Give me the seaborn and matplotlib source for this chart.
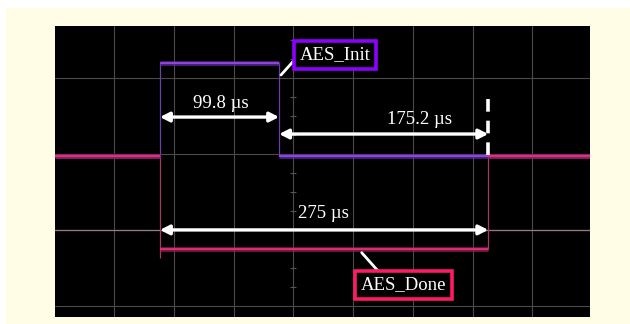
import numpy as np
import pandas as pd
import seaborn as sns
import matplotlib.pyplot as plt
from matplotlib.patches import Rectangle

#%% datos (tiempo en us, nivel en divisiones)
t_init = [-50.0, 38.2, 138.0, 400.0]
v_init = [1.98, 3.20, 1.98, 1.98]
t_done = [-50.0, 38.2, 313.2, 400.0]
v_done = [1.98, 0.75, 1.98, 1.98]
done_undershoot = 0.63

medidas = ["99.8 µs", "175.2 µs", "275 µs"]
etiquetas = ["AES_Init", "AES_Done"]

init = pd.DataFrame({"t": t_init, "v": v_init})
done = pd.DataFrame({"t": t_done, "v": v_done})

#%% figura
sns.set_style("dark")
plt.rcParams["font.family"] = ["Liberation Serif", "DejaVu Serif"]

fig = plt.figure(figsize=(6.3, 3.24), dpi=100, facecolor="white")
fig.patches.append(Rectangle((6 / 630, 0), 624 / 630, 316 / 324, transform=fig.transFigure,
                             facecolor="#fffde6", edgecolor="none", zorder=-10))
ax = fig.add_axes([0.0873, 0.0216, 0.8492, 0.8981])
ax.set_facecolor("black")
ax.set_xlim(-49.7, 398.4)
ax.set_ylim(-0.149, 3.69)

# reticula del osciloscopio
ax.set_xticks(np.arange(0, 351, 50))
ax.set_yticks([0, 1, 2, 3])
ax.grid(True, color="#4a4a4a", lw=0.8)
ax.tick_params(length=0, labelbottom=False, labelleft=False)
for s in ax.spines.values():
    s.set_visible(False)
ax.axhline(1, color="#9c7880", lw=0.9, zorder=1)
marcas = [y for y in np.arange(-0.25, 3.76, 0.25) if y % 1 != 0]
ax.plot(np.full(len(marcas), 150), marcas, ls="none", marker="_", ms=5, mew=0.8, color="#555555")

# trazas: flancos finos y tenues, niveles con banda de ruido
for df, tenue, banda, nucleo in [(init, "#6a3fa8", "#5e2aa8", "#a04cf0"),
                                 (done, "#a03a66", "#a01e55", "#ee3480")]:
    sns.lineplot(data=df, x="t", y="v", drawstyle="steps-post", estimator=None,
                 color=tenue, lw=0.9, ax=ax, zorder=2)
    for i in range(len(df) - 1):
        ax.hlines(df.v[i], df.t[i], df.t[i + 1], color=banda, lw=3.4, alpha=0.75, zorder=3)
        ax.hlines(df.v[i], df.t[i], df.t[i + 1], color=nucleo, lw=1.1, zorder=3)
ax.vlines(t_done[1], done_undershoot, v_done[1], color="#a03a66", lw=0.9, zorder=2)
ax.set_xlabel("")
ax.set_ylabel("")

# flechas de medida
flecha = dict(arrowstyle="<|-|>,head_length=0.55,head_width=0.28", color="white",
              lw=2.4, shrinkA=0, shrinkB=0)
ax.annotate("", xy=(t_init[1], 2.489), xytext=(t_init[2], 2.489), arrowprops=flecha, zorder=5)
ax.annotate("", xy=(t_init[2], 2.265), xytext=(t_done[2], 2.265), arrowprops=flecha, zorder=5)
ax.annotate("", xy=(t_done[1], 1.0), xytext=(t_done[2], 1.0), arrowprops=flecha, zorder=5)
ax.plot([t_done[2], t_done[2]], [1.99, 2.74], color="white", lw=2.6, ls=(0, (3.5, 2.5)), zorder=5)

ax.text(89.3, 2.674, medidas[0], ha="center", va="center", color="white", fontsize=13.5)
ax.text(256, 2.463, medidas[1], ha="center", va="center", color="white", fontsize=13.5)
ax.text(175.5, 1.211, medidas[2], ha="center", va="center", color="white", fontsize=13.5)

# etiquetas con recuadro
ax.plot([139.6, 153], [3.044, 3.28], color="white", lw=2, zorder=5)
ax.text(184.8, 3.307, etiquetas[0], ha="center", va="center", color="white", fontsize=13.5,
        bbox=dict(boxstyle="square,pad=0.3", fc="black", ec="#8c00ff", lw=2.6), zorder=6)
ax.plot([207.2, 220.8], [0.70, 0.459], color="white", lw=2, zorder=5)
ax.text(242.2, 0.274, etiquetas[1], ha="center", va="center", color="white", fontsize=13.5,
        bbox=dict(boxstyle="square,pad=0.3", fc="black", ec="#ff1a66", lw=2.6), zorder=6)

fig.savefig("out.png", dpi=100, facecolor=fig.get_facecolor())
